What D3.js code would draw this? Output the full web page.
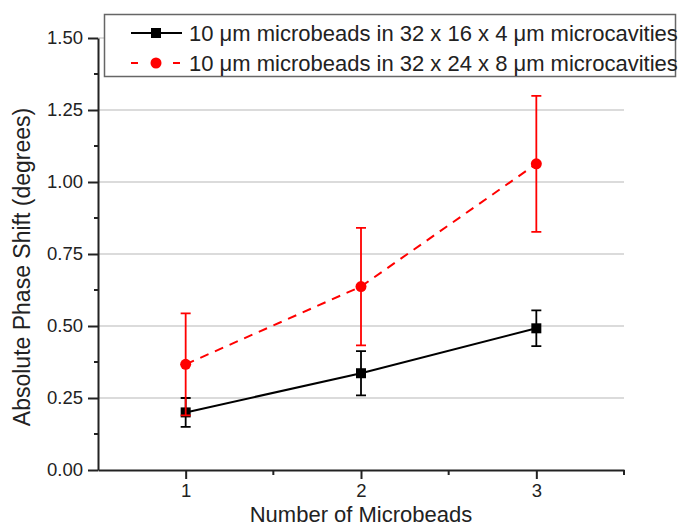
<!DOCTYPE html>
<html>
<head>
<meta charset="utf-8">
<script src="https://cdn.jsdelivr.net/npm/d3@7"></script>
<style>
  body { margin: 0; background: #fff; }
  svg { display: block; font-family: "Liberation Sans", Arial, sans-serif; }
  .grid line { stroke: #cfcfcf; stroke-width: 1.5; }
  .axis path, .axis line { stroke: #222; stroke-width: 2; }
  .axis text { fill: #222; font-size: 18.5px; }
</style>
</head>
<body>
<div id="chart"></div>
<script>
const beads = [1, 2, 3];
const shallowMean = [0.200, 0.336, 0.492];
const shallowErr = [0.050, 0.077, 0.062];
const deepMean = [0.367, 0.637, 1.063];
const deepErr = [0.177, 0.204, 0.236];
const yTicks = [0, 0.25, 0.5, 0.75, 1.0, 1.25, 1.5];
const xTicks = [1, 2, 3];
const seriesNames = [
  "10 \u03bcm microbeads in 32 x 16 x 4 \u03bcm microcavities",
  "10 \u03bcm microbeads in 32 x 24 x 8 \u03bcm microcavities",
];

const width = 681, height = 527;
const margin = { top: 38, right: 57, bottom: 57, left: 98 };

const x = d3.scaleLinear().domain([0.5, 3.5])
  .range([margin.left, width - margin.right]);
const y = d3.scaleLinear().domain([0, 1.5])
  .range([height - margin.bottom, margin.top]);

const svg = d3.select("#chart").append("svg")
  .attr("width", width).attr("height", height);

// gridlines
svg.append("g").attr("class", "grid")
  .selectAll("line")
  .data(yTicks.filter((d) => d > 0))
  .join("line")
  .attr("x1", x.range()[0]).attr("x2", x.range()[1])
  .attr("y1", (d) => y(d)).attr("y2", (d) => y(d));

// minor ticks
const xMinor = d3.range(1.5, 3.6, 1);
const yMinor = d3.range(0.125, 1.5, 0.25);

const xAxis = svg.append("g").attr("class", "axis")
  .attr("transform", `translate(0,${y(0)})`)
  .call(d3.axisBottom(x).tickValues(xTicks).tickFormat(d3.format("d"))
    .tickSize(9).tickSizeOuter(0).tickPadding(5));
xAxis.selectAll(".minor").data(xMinor).join("line")
  .attr("class", "minor").attr("x1", (d) => x(d)).attr("x2", (d) => x(d))
  .attr("y1", 0).attr("y2", 5);

const yAxis = svg.append("g").attr("class", "axis")
  .attr("transform", `translate(${x(0.5)},0)`)
  .call(d3.axisLeft(y).tickValues(yTicks).tickFormat(d3.format(".2f"))
    .tickSize(10).tickSizeOuter(0).tickPadding(5));
yAxis.selectAll(".minor").data(yMinor).join("line")
  .attr("class", "minor").attr("y1", (d) => y(d)).attr("y2", (d) => y(d))
  .attr("x1", 0).attr("x2", -4);

// axis titles
svg.append("text")
  .attr("x", (x.range()[0] + x.range()[1]) / 2).attr("y", 522)
  .attr("text-anchor", "middle").attr("font-size", 22).attr("fill", "#222")
  .text("Number of Microbeads");

svg.append("text")
  .attr("transform", `translate(30,267) rotate(-90)`)
  .attr("text-anchor", "middle").attr("font-size", 23).attr("fill", "#222")
  .text("Absolute Phase Shift (degrees)");

const line = d3.line().x((d) => x(d.x)).y((d) => y(d.y));

function drawSeries(means, errs, color, dash, marker) {
  const data = beads.map((b, i) => ({ x: b, y: means[i], e: errs[i] }));
  const g = svg.append("g");
  const cap = 5;
  g.selectAll(".err").data(data).join("path")
    .attr("fill", "none").attr("stroke", color).attr("stroke-width", 1.8)
    .attr("d", (d) => {
      const cx = x(d.x), t = y(d.y + d.e), b = y(d.y - d.e);
      return `M${cx - cap},${t}H${cx + cap}M${cx},${t}V${b}M${cx - cap},${b}H${cx + cap}`;
    });
  g.append("path").datum(data)
    .attr("fill", "none").attr("stroke", color).attr("stroke-width", 2)
    .attr("stroke-dasharray", dash)
    .attr("d", line);
  marker(g.selectAll(".pt").data(data).join("g")
    .attr("transform", (d) => `translate(${x(d.x)},${y(d.y)})`), color);
}

const square = (sel, color) => sel.append("rect")
  .attr("x", -5).attr("y", -5).attr("width", 10).attr("height", 10).attr("fill", color);
const circle = (sel, color) => sel.append("circle").attr("r", 5.5).attr("fill", color);

drawSeries(shallowMean, shallowErr, "#000", null, square);
drawSeries(deepMean, deepErr, "#ff0000", "9,7", circle);

// legend
const legend = svg.append("g");
legend.append("rect")
  .attr("x", 104.5).attr("y", 14.5).attr("width", 571).attr("height", 62)
  .attr("fill", "#fff").attr("stroke", "#666").attr("stroke-width", 1.5);

const legendItems = [
  { name: seriesNames[0], color: "#000", dash: null, marker: square, cy: 33 },
  { name: seriesNames[1], color: "#ff0000", dash: "7,14", marker: circle, cy: 63 },
];
legendItems.forEach((d) => {
  const g = legend.append("g").attr("transform", `translate(0,${d.cy})`);
  g.append("line").attr("x1", 131).attr("x2", 182)
    .attr("stroke", d.color).attr("stroke-width", 2)
    .attr("stroke-dasharray", d.dash);
  d.marker(g.append("g").attr("transform", "translate(156,0)"), d.color);
  g.append("text").attr("x", 189).attr("y", 7.5)
    .attr("font-size", 22).attr("fill", "#222").text(d.name);
});
</script>
</body>
</html>
